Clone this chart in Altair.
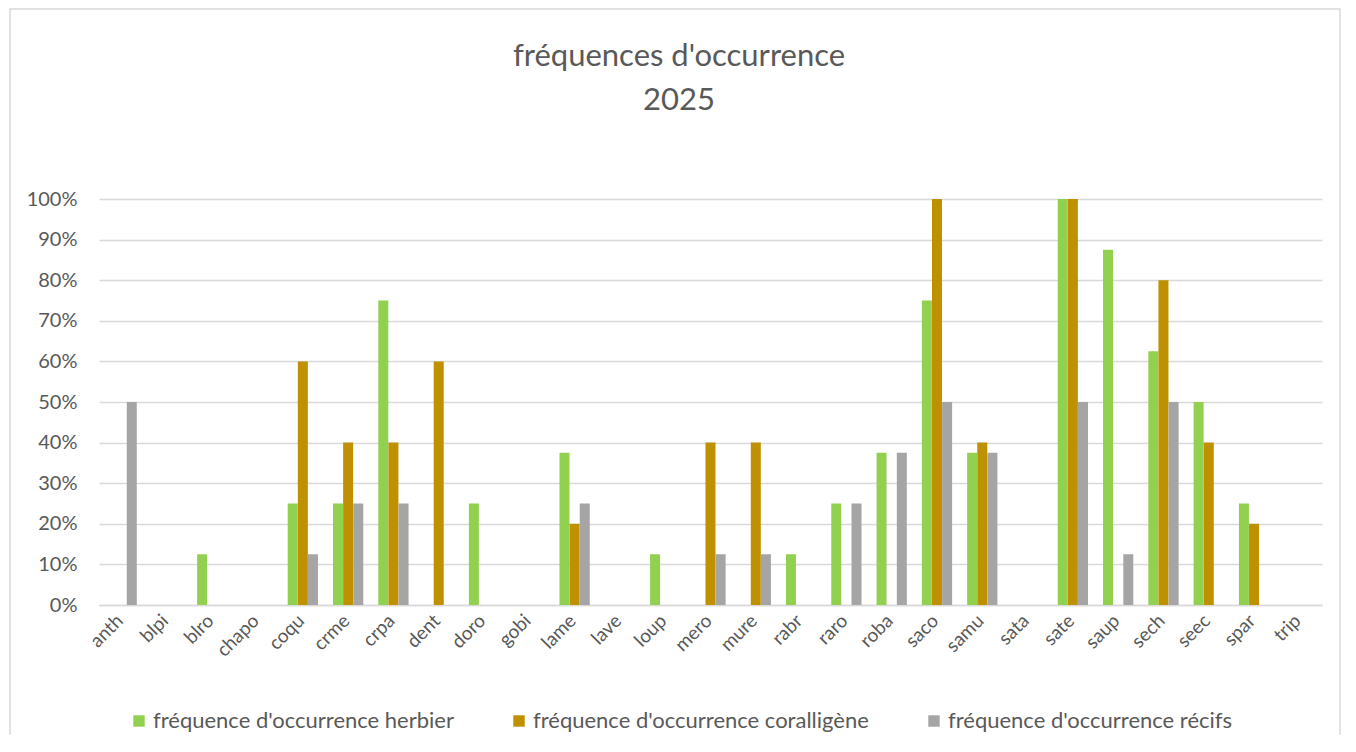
import altair as alt
import pandas as pd

categories = ["anth", "blpi", "blro", "chapo", "coqu", "crme", "crpa", "dent", "doro",
              "gobi", "lame", "lave", "loup", "mero", "mure", "rabr", "raro", "roba",
              "saco", "samu", "sata", "sate", "saup", "sech", "seec", "spar", "trip"]

herbier = [0, 0, 0.125, 0, 0.25, 0.25, 0.75, 0, 0.25, 0, 0.375, 0, 0.125, 0, 0, 0.125,
           0.25, 0.375, 0.75, 0.375, 0, 1.0, 0.875, 0.625, 0.5, 0.25, 0]
coralligene = [0, 0, 0, 0, 0.6, 0.4, 0.4, 0.6, 0, 0, 0.2, 0, 0, 0.4, 0.4, 0,
               0, 0, 1.0, 0.4, 0, 1.0, 0, 0.8, 0.4, 0.2, 0]
recifs = [0.5, 0, 0, 0, 0.125, 0.25, 0.25, 0, 0, 0, 0.25, 0, 0, 0.125, 0.125, 0,
          0.25, 0.375, 0.5, 0.375, 0, 0.5, 0.125, 0.5, 0, 0, 0]

series_names = ["fréquence d'occurrence herbier",
                "fréquence d'occurrence coralligène",
                "fréquence d'occurrence récifs"]
series_colors = ["#92D050", "#BF9000", "#A5A5A5"]
y_ticks = [0, 0.1, 0.2, 0.3, 0.4, 0.5, 0.6, 0.7, 0.8, 0.9, 1.0]
title_lines = ["fréquences d'occurrence", "2025"]

rows = []
for name, vals in zip(series_names, [herbier, coralligene, recifs]):
    for c, v in zip(categories, vals):
        rows.append({"espece": c, "serie": name, "valeur": v})
df = pd.DataFrame(rows)

FONT = "Lato"
TXT = "#595959"

bars = alt.Chart(df).mark_bar(size=10).encode(
    x=alt.X("espece:N", sort=categories,
            scale=alt.Scale(paddingInner=0.34, paddingOuter=0.17),
            axis=alt.Axis(title=None, labelAngle=-45, labelFontSize=19, labelColor=TXT,
                          labelFont=FONT, ticks=False, domain=True, domainColor="#D9D9D9",
                          domainWidth=1.5, labelPadding=6, labelOffset=-8)),
    xOffset=alt.XOffset("serie:N", sort=series_names,
                        scale=alt.Scale(paddingInner=0.05, paddingOuter=0)),
    y=alt.Y("valeur:Q", scale=alt.Scale(domain=[0, 1]),
            axis=alt.Axis(title=None, format=".0%", values=y_ticks, labelFontSize=20,
                          labelColor=TXT, labelFont=FONT, ticks=False, domain=False,
                          gridColor="#D9D9D9", gridWidth=1.5, labelPadding=22)),
    color=alt.Color("serie:N", sort=series_names,
                    scale=alt.Scale(domain=series_names, range=series_colors),
                    legend=alt.Legend(title=None, orient="none", direction="horizontal",
                                      legendX=29, legendY=511, symbolType="square",
                                      symbolSize=130, symbolStrokeWidth=0,
                                      labelFontSize=22, labelFont=FONT, labelColor=TXT,
                                      columnPadding=54, labelLimit=500, labelOffset=3)),
)

border = alt.Chart(pd.DataFrame({"a": [0]})).mark_rect(
    fill=None, stroke="#D9D9D9", strokeWidth=1.5, clip=False
).encode(x=alt.value(-89), x2=alt.value(1241), y=alt.value(-190), y2=alt.value(545))

title = alt.Chart(pd.DataFrame({"a": [0]})).mark_text(
    text=title_lines, font=FONT, fontSize=31, color=TXT, lineHeight=44,
    align="center", baseline="top"
).encode(x=alt.value(580), y=alt.value(-157))

chart = alt.layer(border, title, bars).properties(
    width=1223, height=406,
    autosize=alt.AutoSizeParams(type="none"),
    padding={"left": 91, "top": 191, "right": 20, "bottom": 130},
).configure_view(stroke=None)

chart.save("out.html", embed_options={"renderer": "svg", "actions": False})
